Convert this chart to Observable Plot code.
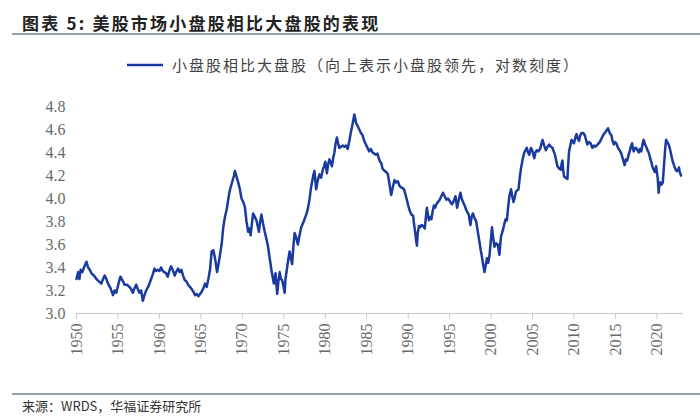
<!DOCTYPE html>
<html>
<head>
<meta charset="utf-8">
<script src="https://cdn.jsdelivr.net/npm/d3@7"></script>
<script src="https://cdn.jsdelivr.net/npm/@observablehq/plot@0.6"></script>
<style>
  html, body { margin: 0; padding: 0; background: #fff; }
  #wrap { position: relative; width: 700px; height: 420px; overflow: hidden; background: #fff; }
  #title { position: absolute; left: 22px; top: 10px; font-family: "Noto Sans CJK SC"; font-weight: bold; font-size: 17px; letter-spacing: 2.2px; color: #222; white-space: nowrap; }
  #rule1 { position: absolute; left: 12px; top: 33px; width: 688px; height: 2px; background: #8fa1b6; }
  #legend { position: absolute; left: 127px; top: 54px; display: flex; align-items: center; font-family: "Noto Sans CJK SC"; font-size: 15px; letter-spacing: 2px; color: #444; white-space: nowrap; }
  #legend svg { margin-right: 9px; }
  #chart { position: absolute; left: 0; top: 95px; }
  #rule2 { position: absolute; left: 12px; top: 393px; width: 688px; height: 2px; background: #8fa1b6; }
  #source { position: absolute; left: 22px; top: 396px; font-family: "Noto Sans CJK SC"; font-size: 13px; color: #333; white-space: nowrap; }
</style>
</head>
<body>
<div id="wrap">
  <div id="title"></div>
  <div id="rule1"></div>
  <div id="legend"></div>
  <div id="chart"></div>
  <div id="rule2"></div>
  <div id="source"></div>
</div>
<script>
const titleText = "图表 5:  美股市场小盘股相比大盘股的表现";
const seriesName = "小盘股相比大盘股（向上表示小盘股领先，对数刻度）";
const sourceText = "来源：WRDS，华福证券研究所";

const xTicks = [1950, 1955, 1960, 1965, 1970, 1975, 1980, 1985, 1990, 1995, 2000, 2005, 2010, 2015, 2020];
const yTicks = [3.0, 3.2, 3.4, 3.6, 3.8, 4.0, 4.2, 4.4, 4.6, 4.8];

const years = [
1950.0,1950.2,1950.35,1950.5,1950.7,1950.9,1951.2,1951.4,1951.6,1951.8,1952.1,1952.4,1952.7,1953.0,1953.2,1953.4,1953.6,1953.8,1954.1,1954.4,1954.6,1954.8,1955.1,1955.3,1955.6,1955.8,1956.1,1956.4,1956.6,1956.8,1957.0,1957.2,1957.4,1957.6,1957.8,1958.0,1958.2,1958.4,1958.7,1959.0,1959.2,1959.4,1959.6,1959.8,1960.0,1960.2,1960.4,1960.6,1960.8,1961.0,1961.2,1961.4,1961.6,1961.85,1962.0,1962.25,1962.45,1962.65,1962.85,1963.05,1963.25,1963.45,1963.7,1963.9,1964.1,1964.3,1964.5,1964.7,1964.9,1965.1,1965.3,1965.5,1965.7,1965.9,1966.1,1966.3,1966.5,1966.65,1966.75,1966.95,1967.1,1967.3,1967.5,1967.7,1967.9,1968.1,1968.3,1968.45,1968.6,1968.8,1969.0,1969.1,1969.3,1969.5,1969.7,1969.9,1970.1,1970.3,1970.5,1970.7,1970.85,1971.0,1971.15,1971.3,1971.5,1971.7,1971.85,1972.0,1972.15,1972.3,1972.5,1972.7,1972.9,1973.1,1973.3,1973.5,1973.65,1973.8,1974.0,1974.2,1974.35,1974.5,1974.65,1974.8,1974.95,1975.1,1975.2,1975.3,1975.5,1975.7,1975.85,1976.0,1976.15,1976.3,1976.5,1976.7,1976.9,1977.1,1977.4,1977.7,1977.9,1978.1,1978.25,1978.4,1978.55,1978.7,1978.9,1979.1,1979.3,1979.5,1979.7,1979.85,1980.0,1980.2,1980.35,1980.5,1980.65,1980.8,1980.95,1981.1,1981.25,1981.4,1981.55,1981.7,1981.9,1982.1,1982.3,1982.5,1982.7,1982.9,1983.1,1983.3,1983.5,1983.6,1983.7,1983.9,1984.1,1984.3,1984.5,1984.7,1984.9,1985.1,1985.3,1985.5,1985.7,1985.9,1986.1,1986.3,1986.45,1986.6,1986.75,1986.9,1987.15,1987.35,1987.55,1987.75,1987.95,1988.15,1988.35,1988.55,1988.75,1988.95,1989.1,1989.3,1989.5,1989.65,1989.8,1990.0,1990.2,1990.4,1990.6,1990.7,1990.8,1990.95,1991.05,1991.15,1991.3,1991.45,1991.6,1991.8,1992.0,1992.15,1992.25,1992.4,1992.5,1992.65,1992.8,1992.95,1993.1,1993.25,1993.4,1993.6,1993.8,1994.0,1994.2,1994.4,1994.6,1994.8,1995.0,1995.15,1995.3,1995.5,1995.7,1995.9,1996.1,1996.3,1996.45,1996.6,1996.8,1997.0,1997.15,1997.3,1997.5,1997.65,1997.8,1998.0,1998.2,1998.4,1998.6,1998.75,1998.9,1999.05,1999.2,1999.35,1999.5,1999.65,1999.8,1999.95,2000.1,2000.25,2000.4,2000.6,2000.8,2001.0,2001.1,2001.2,2001.4,2001.6,2001.75,2001.9,2002.05,2002.2,2002.4,2002.55,2002.7,2002.85,2003.0,2003.15,2003.3,2003.45,2003.6,2003.8,2004.0,2004.15,2004.3,2004.45,2004.6,2004.8,2005.0,2005.2,2005.35,2005.5,2005.7,2005.9,2006.05,2006.2,2006.4,2006.6,2006.8,2007.0,2007.2,2007.4,2007.55,2007.7,2007.85,2008.0,2008.2,2008.4,2008.5,2008.6,2008.7,2008.8,2009.0,2009.2,2009.3,2009.4,2009.55,2009.7,2009.85,2010.0,2010.15,2010.3,2010.45,2010.6,2010.75,2010.9,2011.1,2011.3,2011.45,2011.6,2011.8,2012.0,2012.2,2012.4,2012.6,2012.85,2013.1,2013.3,2013.5,2013.7,2013.9,2014.1,2014.3,2014.5,2014.65,2014.8,2014.95,2015.1,2015.3,2015.5,2015.7,2015.9,2016.1,2016.25,2016.4,2016.55,2016.7,2016.85,2017.0,2017.1,2017.2,2017.35,2017.5,2017.65,2017.8,2017.95,2018.1,2018.25,2018.4,2018.55,2018.7,2018.85,2019.0,2019.15,2019.3,2019.45,2019.6,2019.75,2019.9,2020.1,2020.2,2020.3,2020.4,2020.55,2020.7,2020.8,2020.9,2021.0,2021.1,2021.25,2021.4,2021.5,2021.6,2021.75,2021.9,2022.05,2022.2,2022.35,2022.5,2022.65,2022.75,2022.9
];

const values = [
3.30,3.36,3.30,3.38,3.36,3.40,3.45,3.40,3.38,3.35,3.33,3.30,3.28,3.26,3.30,3.33,3.30,3.26,3.22,3.16,3.20,3.18,3.27,3.32,3.28,3.25,3.25,3.23,3.21,3.18,3.22,3.25,3.21,3.18,3.20,3.11,3.16,3.20,3.24,3.30,3.34,3.39,3.37,3.38,3.37,3.40,3.37,3.36,3.35,3.32,3.37,3.41,3.38,3.33,3.36,3.39,3.36,3.38,3.33,3.29,3.28,3.25,3.23,3.21,3.19,3.16,3.17,3.15,3.17,3.19,3.22,3.26,3.23,3.30,3.38,3.54,3.55,3.50,3.46,3.36,3.42,3.51,3.60,3.75,3.84,3.90,3.99,4.06,4.10,4.15,4.20,4.24,4.19,4.14,4.08,4.00,3.97,3.93,3.80,3.71,3.74,3.68,3.78,3.87,3.84,3.81,3.76,3.71,3.80,3.86,3.78,3.71,3.65,3.58,3.48,3.38,3.32,3.26,3.35,3.17,3.28,3.36,3.30,3.29,3.24,3.18,3.30,3.35,3.45,3.54,3.48,3.43,3.58,3.70,3.66,3.60,3.68,3.75,3.80,3.86,3.91,3.99,4.08,4.14,4.20,4.24,4.08,4.16,4.21,4.18,4.25,4.28,4.32,4.22,4.30,4.34,4.31,4.28,4.35,4.40,4.48,4.53,4.48,4.44,4.45,4.46,4.45,4.46,4.43,4.50,4.58,4.65,4.73,4.70,4.66,4.63,4.60,4.57,4.55,4.50,4.47,4.44,4.41,4.43,4.40,4.39,4.38,4.39,4.35,4.32,4.31,4.26,4.24,4.23,4.21,4.12,4.03,4.10,4.16,4.14,4.15,4.11,4.10,4.09,4.08,4.04,4.00,3.94,3.89,3.86,3.85,3.78,3.73,3.64,3.59,3.70,3.76,3.75,3.77,3.76,3.74,3.85,3.92,3.85,3.81,3.84,3.82,3.89,3.94,3.92,3.95,3.97,3.99,4.02,4.05,4.02,3.99,4.00,3.98,3.96,3.95,3.98,4.02,3.92,3.99,4.05,4.00,3.97,3.94,3.90,3.88,3.86,3.77,3.84,3.87,3.83,3.80,3.71,3.62,3.55,3.49,3.42,3.36,3.42,3.48,3.44,3.50,3.62,3.75,3.66,3.58,3.61,3.60,3.51,3.60,3.67,3.72,3.78,3.82,3.81,3.92,4.02,4.08,4.02,3.97,4.01,4.06,4.07,4.08,4.18,4.26,4.34,4.40,4.42,4.44,4.40,4.38,4.44,4.41,4.35,4.40,4.42,4.41,4.43,4.47,4.51,4.46,4.42,4.45,4.47,4.45,4.44,4.41,4.38,4.33,4.28,4.26,4.25,4.30,4.33,4.24,4.19,4.18,4.17,4.30,4.41,4.46,4.51,4.49,4.48,4.53,4.56,4.52,4.50,4.55,4.57,4.57,4.55,4.51,4.47,4.49,4.48,4.44,4.46,4.45,4.47,4.49,4.52,4.55,4.57,4.59,4.61,4.57,4.55,4.50,4.47,4.49,4.48,4.44,4.42,4.39,4.34,4.29,4.34,4.33,4.37,4.41,4.45,4.48,4.43,4.41,4.44,4.44,4.42,4.40,4.43,4.41,4.47,4.51,4.47,4.45,4.42,4.40,4.36,4.32,4.28,4.25,4.23,4.28,4.17,4.05,4.12,4.14,4.12,4.14,4.24,4.34,4.44,4.51,4.49,4.47,4.45,4.42,4.37,4.32,4.29,4.26,4.24,4.24,4.27,4.23,4.20
];

const lineColor = "#1a3a9e";
const axisFont = "Liberation Serif";

document.getElementById("title").textContent = titleText;
document.getElementById("source").textContent = sourceText;
document.getElementById("legend").innerHTML =
  `<svg width="36" height="6"><line x1="0" x2="36" y1="3" y2="3" stroke="${lineColor}" stroke-width="2.5"/></svg><span>${seriesName}</span>`;

const data = years.map((y, i) => ({year: y, value: values[i]}));

const chart = Plot.plot({
  width: 700,
  height: 263,
  marginTop: 11,
  marginBottom: 45,
  marginLeft: 76,
  marginRight: 17,
  style: {fontFamily: axisFont, fontSize: "16px", color: "#6a6a6a", background: "transparent"},
  x: {domain: [1950, 2023.2]},
  y: {domain: [3.0, 4.8]},
  marks: [
    Plot.axisY({ticks: yTicks, tickSize: 0, tickPadding: 11, tickFormat: d3.format(".1f"), label: null, fill: "#6a6a6a", fontFamily: axisFont, fontSize: 16}),
    Plot.axisX({ticks: xTicks, tickFormat: d => String(d), tickRotate: -90, tickSize: 6, tickPadding: 4, label: null, stroke: "#c8c8c8", fill: "#6a6a6a", fontFamily: axisFont, fontSize: 16}),
    Plot.ruleY([3.0], {stroke: "#c8c8c8"}),
    Plot.line(data, {x: "year", y: "value", stroke: lineColor, strokeWidth: 2.5, strokeLinejoin: "round"})
  ]
});
document.getElementById("chart").appendChild(chart);
</script>
</body>
</html>
